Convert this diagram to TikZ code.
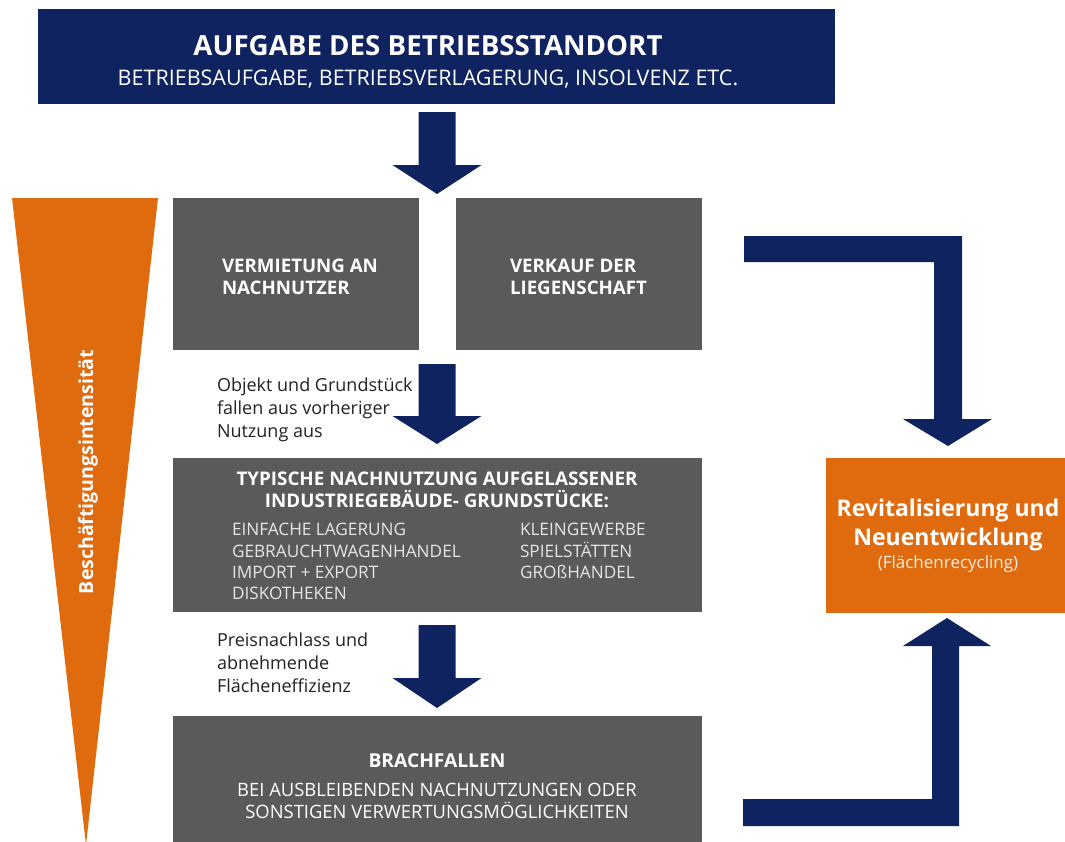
\documentclass[tikz,border=0pt]{standalone}
\usepackage{fontspec}
\setmainfont{Open Sans}
\definecolor{navy}{HTML}{0E235F}
\definecolor{boxgray}{HTML}{5A5A5A}
\definecolor{orng}{HTML}{E06B0F}
\definecolor{listgray}{HTML}{E6E6E6}
\definecolor{labelgray}{HTML}{222222}

% block arrow pointing down: centre x, shaft top, head base, tip
\newcommand{\blockdown}[4]{%
  \fill[navy] ({#1-18.5},#2) -- ({#1+18.5},#2) -- ({#1+18.5},#3) -- ({#1+44.5},#3)
    -- (#1,#4) -- ({#1-44.5},#3) -- ({#1-18.5},#3) -- cycle;}

\begin{document}
\begin{tikzpicture}[x=1pt,y=-1pt,
  every node/.style={inner sep=0pt,outer sep=0pt},
  panel/.style={anchor=north west,fill=#1},
  boldcap/.style={font=\fontsize{#1}{#1}\selectfont\bfseries,text=white},
  plaincap/.style={font=\fontsize{#1}{#1}\selectfont,text=white},
  listitem/.style={font=\fontsize{17.2}{17.2}\selectfont,text=listgray,anchor=base west},
  sidenote/.style={font=\fontsize{18}{18}\selectfont,text=labelgray,anchor=base west}]
\useasboundingbox (0,0) rectangle (1065,841);

% ---- employment intensity wedge
\fill[orng] (12,198) -- (158,198) -- (86,845) -- cycle;
\node[boldcap=19.5,rotate=90] (intens) at (88,472) {Beschäftigungsintensität};

% ---- top banner
\node[panel=navy,minimum width=797,minimum height=95] (top) at (38,9) {};
\node[boldcap=27.7,anchor=base] (topt) at (428,55) {AUFGABE DES BETRIEBSSTANDORT};
\node[plaincap=21.5,anchor=base] (tops) at (428,85) {BETRIEBSAUFGABE, BETRIEBSVERLAGERUNG, INSOLVENZ ETC.};

% ---- rent / sale panels
\node[panel=boxgray,minimum width=246,minimum height=152] (rent) at (173,198) {};
\node[boldcap=18.7,anchor=base west] (rent1) at (222,272) {VERMIETUNG AN};
\node[boldcap=18.7,anchor=base west] (rent2) at (222,294) {NACHNUTZER};

\node[panel=boxgray,minimum width=246,minimum height=152] (sale) at (456,198) {};
\node[boldcap=18.7,anchor=base west] (sale1) at (510,272) {VERKAUF DER};
\node[boldcap=18.7,anchor=base west] (sale2) at (510,294) {LIEGENSCHAFT};

% ---- typical follow-up uses
\node[panel=boxgray,minimum width=529,minimum height=154] (use) at (173,458) {};
\node[boldcap=18.8,anchor=base] (use1) at (437,485) {TYPISCHE NACHNUTZUNG AUFGELASSENER};
\node[boldcap=18.8,anchor=base] (use2) at (437,507) {INDUSTRIEGEBÄUDE- GRUNDSTÜCKE:};
\node[listitem] (l1) at (232,535) {EINFACHE LAGERUNG};
\node[listitem] (l2) at (232,557) {GEBRAUCHTWAGENHANDEL};
\node[listitem] (l3) at (232,578) {IMPORT + EXPORT};
\node[listitem] (l4) at (232,599) {DISKOTHEKEN};
\node[listitem] (r1) at (520,535) {KLEINGEWERBE};
\node[listitem] (r2) at (520,557) {SPIELSTÄTTEN};
\node[listitem] (r3) at (520,578) {GROßHANDEL};

% ---- fallow land
\node[panel=boxgray,minimum width=529,minimum height=130] (fallow) at (173,716) {};
\node[boldcap=19.2,anchor=base] (fal1) at (437,767) {BRACHFALLEN};
\node[plaincap=18.4,anchor=base] (fal2) at (437,796) {BEI AUSBLEIBENDEN NACHNUTZUNGEN ODER};
\node[plaincap=18.4,anchor=base] (fal3) at (437,818) {SONSTIGEN VERWERTUNGSMÖGLICHKEITEN};

% ---- revitalisation
\node[panel=orng,minimum width=239,minimum height=155] (revit) at (826,458) {};
\node[boldcap=23,anchor=base] (rev1) at (948,516) {Revitalisierung und};
\node[boldcap=23,anchor=base] (rev2) at (948,545) {Neuentwicklung};
\node[plaincap=17,anchor=base,text=white!88!orng] (rev3) at (948,568) {(Flächenrecycling)};

% ---- side notes
\node[sidenote] (n1) at (217,391) {Objekt und Grundstück};
\node[sidenote] (n2) at (217,414) {fallen aus vorheriger};
\node[sidenote] (n3) at (217,437) {Nutzung aus};
\node[sidenote] (p1) at (217,646) {Preisnachlass und};
\node[sidenote] (p2) at (217,669) {abnehmende};
\node[sidenote] (p3) at (217,692) {Flächeneffizienz};

% ---- straight block arrows
\blockdown{437}{112}{165}{194}
\blockdown{437}{364}{416}{444}
\blockdown{437}{625}{678}{708}

% ---- sale -> revitalisation
\fill[navy] (744,236) -- (962,236) -- (962,419) -- (992,419) -- (948,446)
  -- (903,419) -- (934,419) -- (934,262) -- (744,262) -- cycle;
% ---- fallow -> revitalisation
\fill[navy] (743,826) -- (959,826) -- (959,646) -- (991,646) -- (947,618)
  -- (903,646) -- (932,646) -- (932,799) -- (743,799) -- cycle;
\end{tikzpicture}
\end{document}
